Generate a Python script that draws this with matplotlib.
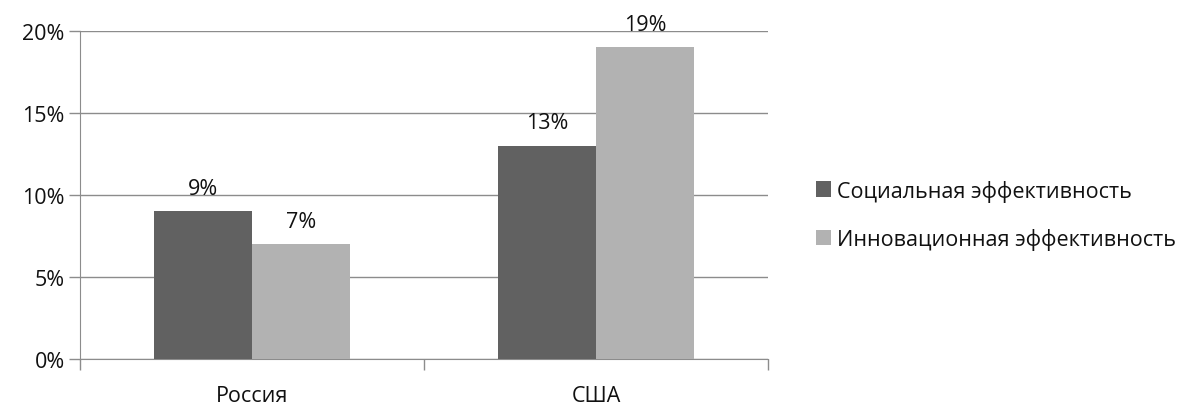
import matplotlib
matplotlib.use("Agg")
import matplotlib.pyplot as plt
import numpy as np
from matplotlib.patches import Patch
from matplotlib.ticker import FuncFormatter, FixedLocator

categories = ["Россия", "США"]
series_names = ["Социальная эффективность", "Инновационная эффективность"]
social = [9, 13]
innovation = [7, 19]
yticks = [0, 5, 10, 15, 20]

colors = ["#616161", "#b2b2b2"]
plt.rcParams['font.family'] = ['Open Sans', 'DejaVu Sans']
FS = 15.5
TC = "#111111"

fig = plt.figure(figsize=(11.91, 4.06), dpi=100)
ax = fig.add_axes([80/1191, 46/406, 688/1191, 328/406])

x = np.arange(len(categories))
w = 0.285
for i, (vals, name) in enumerate(zip([social, innovation], series_names)):
    pos = x + (i - 0.5) * w
    ax.bar(pos, vals, width=w, color=colors[i], label=name, zorder=3)
    for xi, v in zip(pos, vals):
        ax.annotate(f"{v}%", (xi, v), xytext=(0, 9), textcoords="offset points",
                    ha="center", va="bottom", fontsize=FS, color=TC)

ax.set_xlim(-0.5, 1.5)
ax.set_ylim(0, 20)
ax.set_yticks(yticks)
ax.yaxis.set_major_formatter(FuncFormatter(lambda v, p: f"{int(v)}%"))
ax.grid(axis='y', color='#8c8c8c', linewidth=1, zorder=0)
ax.set_xticks(x)
ax.set_xticklabels(categories)
ax.xaxis.set_minor_locator(FixedLocator([-0.5, 0.5, 1.5]))
ax.tick_params(axis='x', which='major', length=0, labelsize=FS, pad=19, colors=TC)
ax.tick_params(axis='x', which='minor', length=8, color='#8c8c8c', width=1)
ax.tick_params(axis='y', length=8, color='#8c8c8c', width=1, labelsize=FS, pad=3, labelcolor=TC)
for s in ['top', 'right']:
    ax.spines[s].set_visible(False)
ax.spines['left'].set_color('#8c8c8c')
ax.spines['bottom'].set_color('#8c8c8c')
ax.spines['left'].set_zorder(4)

handles = [Patch(facecolor=c, label=n) for c, n in zip(colors, series_names)]
leg = fig.legend(handles=handles, loc='center left', bbox_to_anchor=(807/1191, 1 - 216/406),
           frameon=False, fontsize=FS, handlelength=0.7, handleheight=0.7,
           handletextpad=0.3, labelspacing=1.25, borderaxespad=0)
for t in leg.get_texts():
    t.set_color(TC)

fig.savefig("out.png", dpi=100, facecolor="white")
